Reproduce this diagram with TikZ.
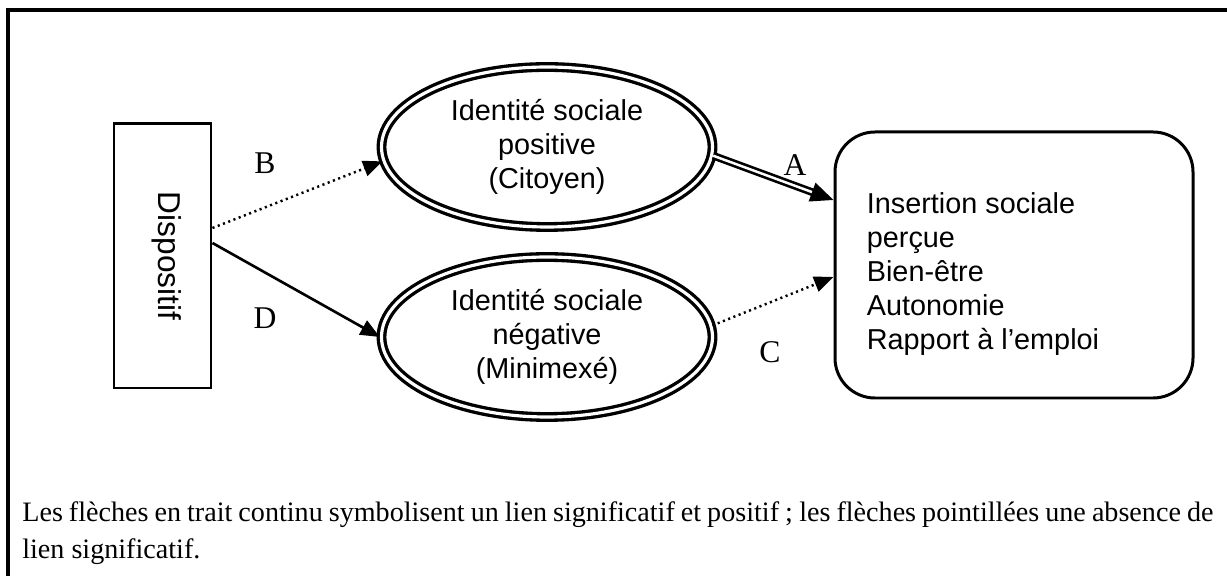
\documentclass[tikz,border=0pt]{standalone}
\usepackage{graphicx}
\usepackage{fontspec}
\setmainfont{Liberation Serif}
\newfontfamily\arialfont{Liberation Sans}
\usetikzlibrary{shapes.geometric,arrows.meta}

\begin{document}
\begin{tikzpicture}[
    every node/.style={font=\fontsize{16}{21}\selectfont},
    sans/.style={font=\arialfont\fontsize{16.4}{19.4}\selectfont},
    lettre/.style={font=\fontsize{18}{21}\selectfont},
    ident/.style={ellipse, sans, draw, line width=1.9pt, double, double distance=1.8pt,
        inner sep=0pt, minimum width=6.62cm, minimum height=3.2cm, align=center},
    tip/.style={-{Triangle[length=11pt,width=9pt]}},
    nolink/.style={tip, line width=1.4pt, dash pattern=on 1.2pt off 2pt},
    link/.style={tip, line width=1.5pt},
    dbllink/.style={-{Triangle[length=13pt,width=11pt]}, line width=1.5pt, double, double distance=1.4pt}
]
    \useasboundingbox (0,0) rectangle (24.54,11.52);
    \draw[line width=2pt] (0.16,-0.3) -- (0.16,11.32) -- (24.9,11.32);

    \node[draw, sans, line width=1.7pt, minimum width=1.94cm, minimum height=5.28cm, inner sep=0pt] (disp) at (3.25,6.40)
        {\hspace{0.18cm}\rotatebox{-90}{\fontsize{18}{20}\selectfont Dispositif}};
    \node[ident] (pos) at (10.94,8.58) {Identité sociale\\positive\\(Citoyen)};
    \node[ident] (neg) at (10.94,4.78) {Identité sociale\\négative\\(Minimexé)};

    \node[draw, line width=1.7pt, rounded corners=0.8cm, minimum width=7.16cm, minimum height=5.32cm] (ins) at (20.28,6.22) {};
    \node[sans, anchor=west, align=left, inner sep=0pt] (instxt) at ([xshift=0.66cm,yshift=-0.18cm]ins.west)
        {Insertion sociale\\perçue\\Bien-être\\Autonomie\\Rapport à l’emploi};

    \draw[nolink] ([yshift=0.56cm]disp.east) -- (pos.185);
    \draw[link] ([yshift=0.26cm]disp.east) -- (neg.west);
    \draw[dbllink] (pos.-3) -- ([yshift=1.3cm]ins.west);
    \draw[nolink] (neg.4) -- ([yshift=-0.24cm]ins.west);

    \node[lettre] (lb) at (5.30,8.26) {B};
    \node[lettre] (ld) at (5.30,5.16) {D};
    \node[lettre] (la) at (15.90,8.22) {A};
    \node[lettre] (lc) at (15.40,4.48) {C};

    \node[anchor=base west, text width=23.82cm, align=justify, inner sep=0pt] (note) at (0.44,1.08)
        {Les flèches en trait continu symbolisent un lien significatif et positif ; les flèches pointillées une absence de\linebreak lien significatif.};
\end{tikzpicture}
\end{document}
